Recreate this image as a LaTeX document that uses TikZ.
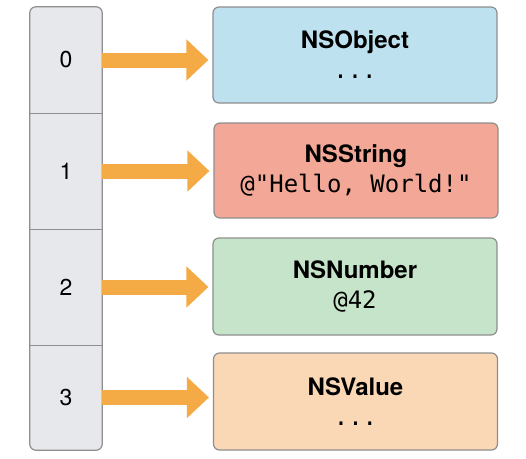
\documentclass[tikz,border=0pt]{standalone}
\usepackage{fontspec}
\setmainfont{TeX Gyre Heros}
\setmonofont{DejaVu Sans Mono}
\usetikzlibrary{arrows.meta}

\definecolor{cellgray}{HTML}{E7E8EB}
\definecolor{frame}{HTML}{8E8E8E}
\definecolor{objblue}{HTML}{BDE1EE}
\definecolor{strred}{HTML}{F3A797}
\definecolor{numgreen}{HTML}{C5E4C9}
\definecolor{valpeach}{HTML}{FBD8B5}
\definecolor{arrowc}{HTML}{F4AA45}

\newcommand{\objcode}[1]{{\ttfamily\mdseries\fontsize{24}{30}\selectfont #1}}

\begin{document}
\begin{tikzpicture}[
    x=1pt, y=-1pt,
    cell/.style={minimum width=72pt, inner sep=0pt, font=\fontsize{23}{26}\selectfont},
    objbox/.style={draw=frame, line width=1.2pt, rounded corners=6pt, minimum width=284pt,
        minimum height=96pt, align=center, inner sep=0pt, font=\fontsize{24}{30}\selectfont\bfseries},
    fatarrow/.style={draw=arrowc, line width=15pt, -{Triangle[length=22pt,width=40pt]}, shorten >=4pt}
    ]
	\useasboundingbox (0,0) rectangle (526,458);
	% index column
	\node [cell, minimum height=106pt] (c0) at (66,60) {};
	\node [cell, minimum height=116pt] (c1) at (66,171) {};
	\node [cell, minimum height=116pt] (c2) at (66,287) {};
	\node [cell, minimum height=105pt] (c3) at (66,397.5) {};
	\fill [cellgray, rounded corners=6pt] (c0.north west) rectangle (c3.south east);
	\draw [frame, line width=1.2pt, rounded corners=6pt] (c0.north west) rectangle (c3.south east);
	\foreach \i in {0,1,2}
		\draw [frame, line width=1.2pt] (c\i.south west) -- (c\i.south east);
	\foreach \i in {0,1,2,3}
		\node [cell] (n\i) at (c\i) {\i};
	% objects
	\node [objbox, fill=objblue] (obj) at (355,55) {NSObject\\\objcode{...}};
	\node [objbox, fill=strred, minimum height=95pt] (str) at (356,170.5) {NSString\\\objcode{@"Hello, World!"}};
	\node [objbox, fill=numgreen, minimum height=97pt] (num) at (355,286.5) {NSNumber\\\objcode{@42}};
	\node [objbox, fill=valpeach, minimum height=97pt] (val) at (355.5,401.5) {NSValue\\\objcode{...}};
	% pointers
	\draw [fatarrow] (c0.east) -- (c0.east -| obj.west);
	\draw [fatarrow] (c1.east) -- (c1.east -| str.west);
	\draw [fatarrow] (c2.east) -- (c2.east -| num.west);
	\draw [fatarrow] (c3.east) -- (c3.east -| val.west);
\end{tikzpicture}
\end{document}
